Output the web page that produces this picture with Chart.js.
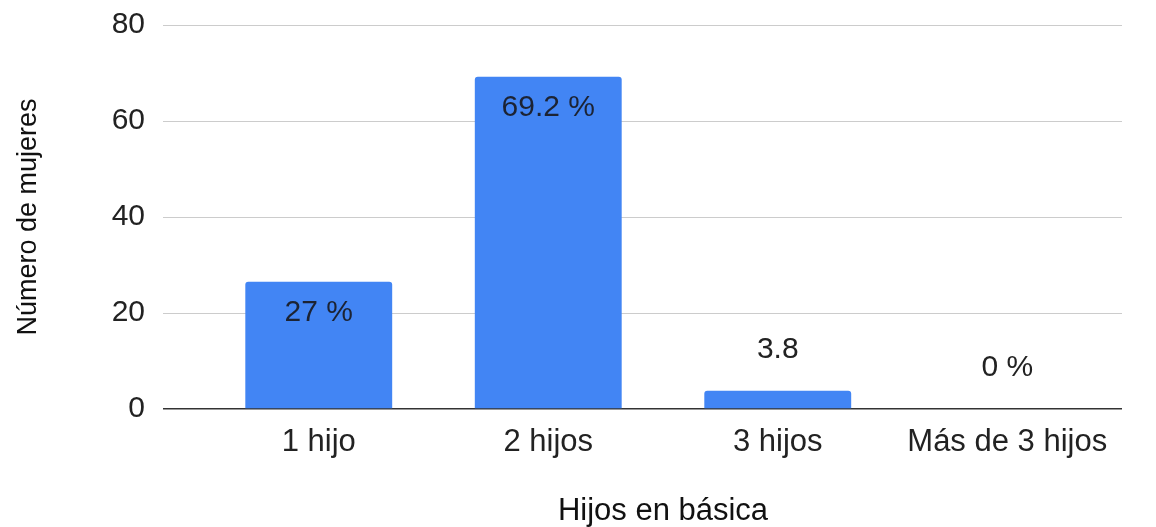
<!DOCTYPE html>
<html>
<head>
<meta charset="utf-8">
<script src="https://cdn.jsdelivr.net/npm/chart.js@4/dist/chart.umd.min.js"></script>
<style>
  html, body { margin: 0; padding: 0; background: #ffffff; }
  #wrap { width: 1156px; height: 527px; position: relative; }
</style>
</head>
<body>
<div id="wrap"><canvas id="c" width="1156" height="527"></canvas></div>
<script>
const categories = ["1 hijo", "2 hijos", "3 hijos", "Más de 3 hijos"];
const values = [26.5, 69.2, 3.8, 0];
const valueLabels = ["27 %", "69.2 %", "3.8", "0 %"];
const yTicks = [0, 20, 40, 60, 80];
const xTitle = "Hijos en básica";
const yTitle = "Número de mujeres";

const FONT = "'Liberation Sans', Arial, sans-serif";

const labelPlugin = {
  id: 'valueLabels',
  afterDatasetsDraw(chart) {
    const ctx = chart.ctx;
    const meta = chart.getDatasetMeta(0);
    const yScale = chart.scales.y;
    ctx.save();
    ctx.font = "30px " + FONT;
    ctx.textAlign = 'center';
    ctx.textBaseline = 'middle';
    meta.data.forEach((bar, i) => {
      const v = values[i];
      const top = yScale.getPixelForValue(v);
      const base = yScale.getPixelForValue(0);
      let y;
      if (base - top > 70) {
        y = top + 31;
        ctx.fillStyle = '#1c2333';
      } else {
        y = top - 41;
        ctx.fillStyle = '#222222';
      }
      ctx.fillText(valueLabels[i], bar.x, y);
    });
    ctx.restore();
  }
};

new Chart(document.getElementById('c'), {
  type: 'bar',
  data: {
    labels: categories,
    datasets: [{
      data: values,
      backgroundColor: '#4285F4',
      borderRadius: { topLeft: 3, topRight: 3, bottomLeft: 0, bottomRight: 0 },
      borderSkipped: 'bottom',
      categoryPercentage: 1.0,
      barPercentage: 0.64
    }]
  },
  options: {
    responsive: false,
    animation: false,
    devicePixelRatio: 1,
    layout: { padding: { top: 25, right: 34, left: 0, bottom: 0 } },
    plugins: {
      legend: { display: false },
      tooltip: { enabled: false }
    },
    scales: {
      x: {
        grid: { display: false, drawTicks: false },
        border: { display: false },
        ticks: {
          color: '#222222',
          font: { family: FONT, size: 31 },
          padding: 15,
          maxRotation: 0
        },
        title: {
          display: true,
          text: xTitle,
          color: '#111111',
          font: { family: FONT, size: 31, lineHeight: 1 },
          padding: { top: 0, bottom: 0 }
        },
        afterFit(scale) { scale.height = 118; scale.paddingLeft = 0; scale.paddingRight = 0; }
      },
      y: {
        min: 0,
        max: 80,
        afterBuildTicks(scale) { scale.ticks = yTicks.map(v => ({ value: v })); },
        grid: {
          color: ctx => (ctx.tick && ctx.tick.value === 0) ? '#333333' : '#cccccc',
          tickColor: ctx => (ctx.tick && ctx.tick.value === 0) ? '#333333' : '#cccccc',
          lineWidth: ctx => (ctx.tick && ctx.tick.value === 0) ? 1.5 : 1,
          drawTicks: true,
          tickLength: 41
        },
        border: { display: false },
        ticks: {
          color: '#222222',
          font: { family: FONT, size: 30 },
          padding: 18
        },
        title: {
          display: true,
          text: yTitle,
          color: '#111111',
          font: { family: FONT, size: 27 },
          padding: { top: 12, bottom: 0 }
        },
        afterFit(scale) { scale.width = 204; scale.paddingTop = 0; scale.paddingBottom = 0; }
      }
    }
  },
  plugins: [labelPlugin]
});
</script>
</body>
</html>
